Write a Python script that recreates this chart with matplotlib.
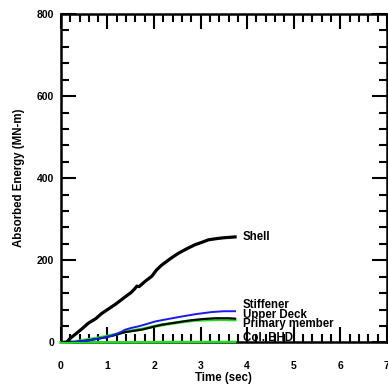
import matplotlib
matplotlib.use("Agg")
import matplotlib.pyplot as plt
from matplotlib.ticker import MultipleLocator

plt.rcParams['font.family'] = ['Liberation Sans', 'DejaVu Sans']
plt.rcParams['font.weight'] = 'bold'

shell_t = [0.0, 0.12, 0.20, 0.30, 0.45, 0.59, 0.75, 0.87, 1.00, 1.16, 1.30, 1.38, 1.50, 1.58, 1.63, 1.68, 1.80, 1.95, 2.05, 2.16, 2.35, 2.52, 2.70, 2.88, 3.03, 3.17, 3.35, 3.50, 3.74]
shell_e = [0.0, 0.0, 10, 19, 33, 47, 58, 70, 80, 92, 104, 111, 121, 130, 137, 136, 148, 161, 176, 188, 204, 217, 228, 238, 244, 250, 253, 255, 257]

stiff_t = [0.0, 0.30, 0.59, 0.80, 0.95, 1.10, 1.20, 1.30, 1.38, 1.50, 1.66, 1.85, 2.02, 2.30, 2.59, 2.90, 3.24, 3.50, 3.74]
stiff_e = [0.0, 1, 5, 9, 12, 17, 21, 26, 31, 35, 39, 45, 51, 57, 63, 69, 74, 76, 76]

deck_t = [0.0, 0.30, 0.59, 0.80, 0.95, 1.10, 1.20, 1.30, 1.38, 1.55, 1.73, 1.95, 2.16, 2.45, 2.74, 3.05, 3.31, 3.60, 3.74]
deck_e = [0.0, 1, 5, 9, 12, 16, 19, 23, 25, 28, 31, 37, 43, 48, 53, 57, 59, 59, 58]

prim_t = [0.0, 0.30, 0.59, 0.80, 0.95, 1.10, 1.20, 1.30, 1.38, 1.55, 1.73, 2.00, 2.30, 2.60, 2.88, 3.15, 3.40, 3.74]
prim_e = [0.0, 2, 7, 11, 14, 18, 20, 23, 26, 29, 32, 39, 45, 50, 54, 55, 56, 55]

bhd_t = [0.0, 1.0, 2.0, 3.0, 3.74]
bhd_e = [0.0, 0.3, 0.6, 1.0, 1.2]

labels = ["Shell", "Stiffener", "Upper Deck", "Primary member", "Col. BHD"]
label_y = [258, 91, 67, 46, 11]

fig = plt.figure(figsize=(3.88, 3.90), dpi=100)
ax = fig.add_axes([0.157, 0.122, 0.840, 0.842])

ax.plot(bhd_t, bhd_e, color='#22dd22', lw=1.8, zorder=3, clip_on=False)
ax.plot(prim_t, prim_e, color='#22dd22', lw=2.2, zorder=3, clip_on=False)
ax.plot(deck_t, deck_e, color='black', lw=1.5, zorder=3)
ax.plot(stiff_t, stiff_e, color='#1a1aee', lw=1.4, zorder=3)
ax.plot(shell_t, shell_e, color='black', lw=2.3, zorder=3)

for lab, yv in zip(labels, label_y):
    ax.text(3.91, yv, lab, fontsize=8.3, fontweight='bold', va='center', ha='left')

ax.set_xlim(0, 7)
ax.set_ylim(0, 800)
ax.xaxis.set_major_locator(MultipleLocator(1))
ax.xaxis.set_minor_locator(MultipleLocator(0.2))
ax.yaxis.set_major_locator(MultipleLocator(200))
ax.yaxis.set_minor_locator(MultipleLocator(40))
ax.tick_params(which='both', direction='in', top=True, right=True, width=1.5,
               labelsize=7.5)
ax.tick_params(axis='x', which='both', pad=13.5)
ax.tick_params(axis='y', which='both', pad=5)
ax.tick_params(which='major', length=11)
ax.tick_params(which='minor', length=6)
for lab in ax.get_xticklabels() + ax.get_yticklabels():
    lab.set_fontweight('bold')
for s in ax.spines.values():
    s.set_linewidth(1.8)

ax.set_xlabel("Time (sec)", fontsize=8.3, fontweight='bold', va='center')
ax.set_ylabel("Absorbed Energy (MN-m)", fontsize=8.3, fontweight='bold', va='center')
ax.xaxis.set_label_coords(0.5, -0.108)
ax.yaxis.set_label_coords(-0.129, 0.5)

fig.savefig("out.png", dpi=100)
